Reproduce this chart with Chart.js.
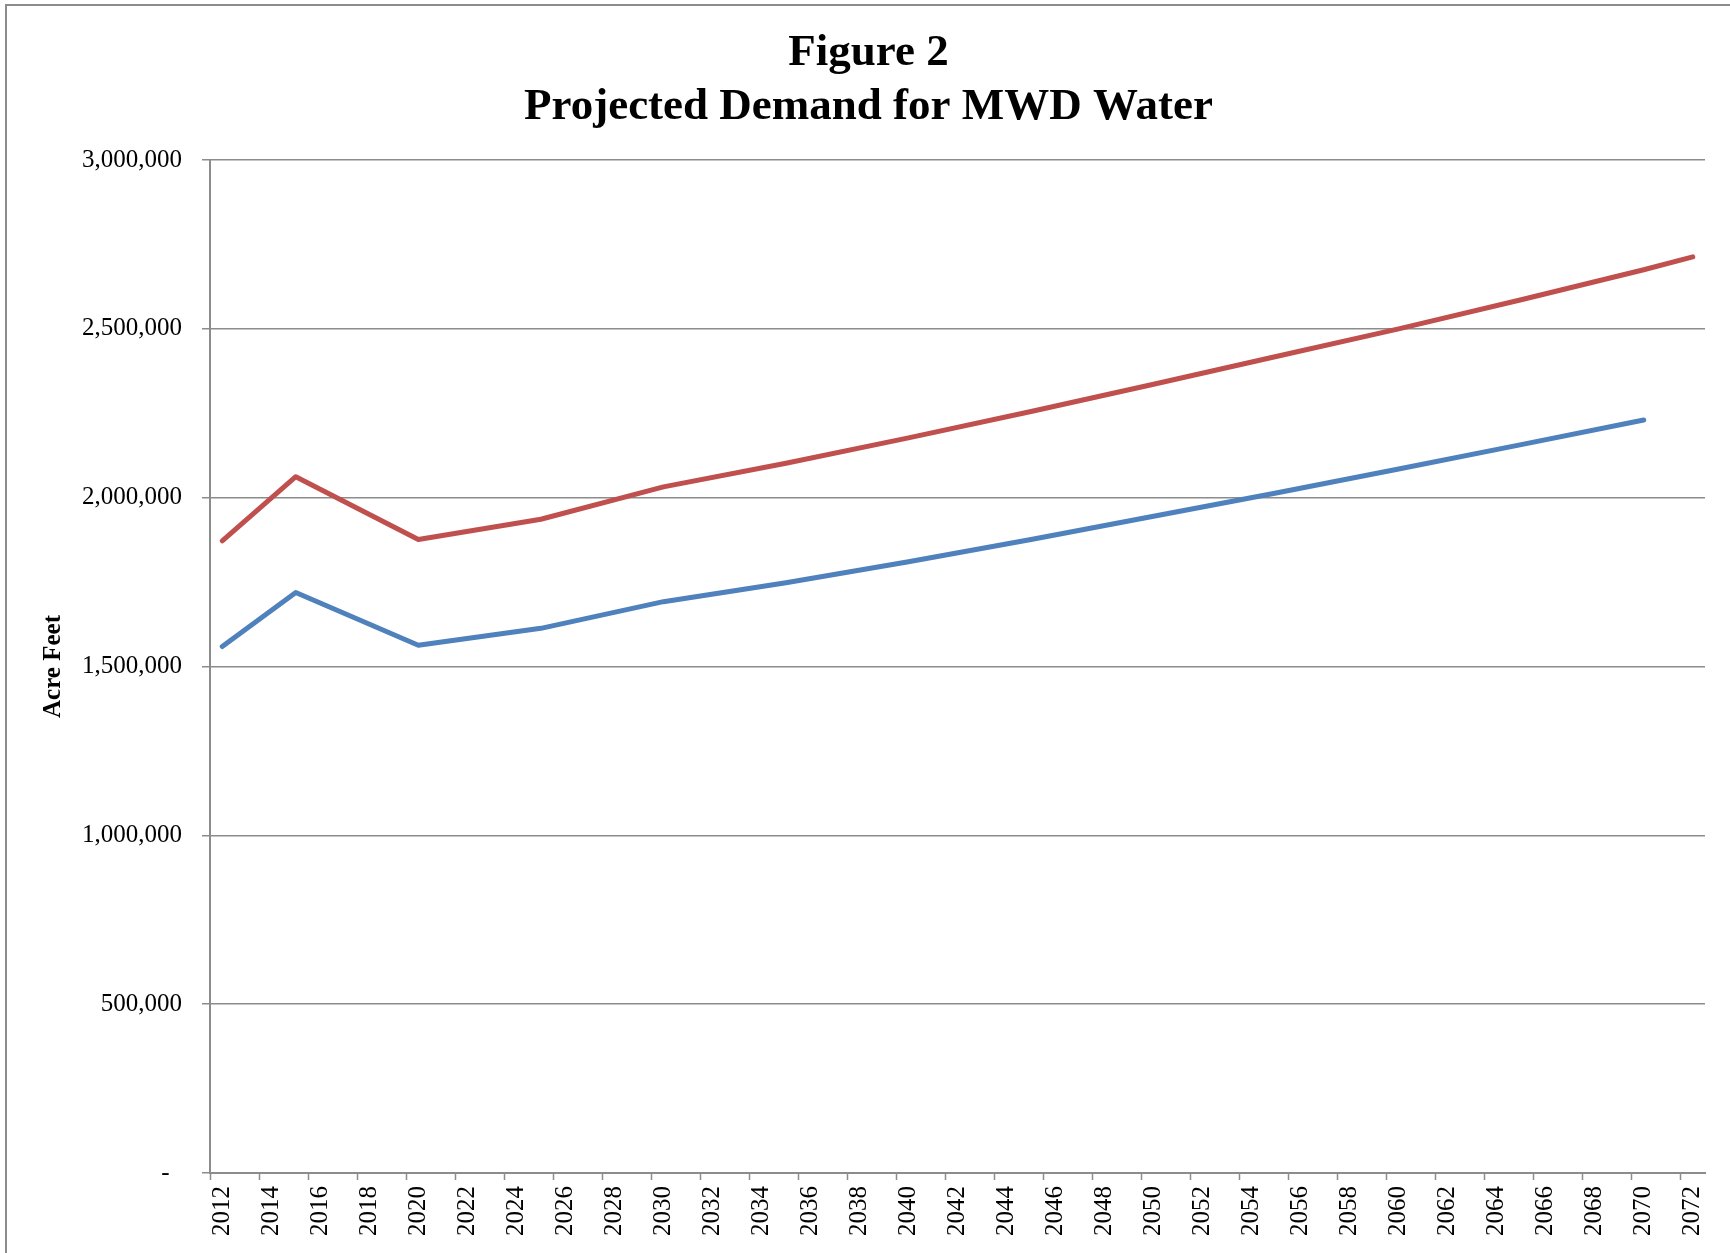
<!DOCTYPE html>
<html>
<head>
<meta charset="utf-8">
<script src="https://cdn.jsdelivr.net/npm/chart.js@4.4.1/dist/chart.umd.min.js"></script>
<style>
  html, body { margin: 0; padding: 0; background: #ffffff; }
  #wrap { position: relative; width: 1730px; height: 1253px; overflow: hidden; }
  #frame { position: absolute; left: 5px; top: 4px; width: 3000px; height: 3000px;
           border-top: 2px solid #8c8c8c; border-left: 2px solid #8c8c8c; box-sizing: border-box; }
  canvas { position: absolute; left: 0; top: 0; }
</style>
</head>
<body>
<div id="wrap">
  <div id="frame"></div>
  <canvas id="c" width="1730" height="1253"></canvas>
</div>
<script>
// ---- data ----
const titleLines = ['Figure 2', 'Projected Demand for MWD Water'];
const yAxisTitle = 'Acre Feet';
const years = ['2012','2013','2014','2015','2016','2017','2018','2019','2020','2021',
  '2022','2023','2024','2025','2026','2027','2028','2029','2030','2031',
  '2032','2033','2034','2035','2036','2037','2038','2039','2040','2041',
  '2042','2043','2044','2045','2046','2047','2048','2049','2050','2051',
  '2052','2053','2054','2055','2056','2057','2058','2059','2060','2061',
  '2062','2063','2064','2065','2066','2067','2068','2069','2070','2071','2072'];

const upperYears  = ['2012','2015','2020','2025','2030','2035','2040','2045','2050','2055','2060','2065','2070','2072'];
const upperValues = [1872000, 2062000, 1876000, 1936000, 2032000, 2102000, 2177000, 2255000, 2336000, 2418000, 2500000, 2586000, 2675000, 2713000];

const lowerYears  = ['2012','2015','2020','2025','2030','2035','2040','2045','2050','2055','2060','2065','2070'];
const lowerValues = [1559000, 1719000, 1563000, 1613000, 1692000, 1748000, 1810000, 1876000, 1945000, 2014000, 2085000, 2157000, 2230000];

const yMin = 0, yMax = 3000000, yStep = 500000;

const gridGray = '#8c8c8c';
const serif = "'Liberation Serif', 'Times New Roman', serif";

const toPoints = (xs, ys) => xs.map((x, i) => ({ x: x, y: ys[i] }));

new Chart(document.getElementById('c'), {
  type: 'line',
  data: {
    labels: years,
    datasets: [
      {
        label: 'Upper projection',
        data: toPoints(upperYears, upperValues),
        borderColor: '#C0504D',
        borderWidth: 5,
        pointRadius: 0,
        borderCapStyle: 'round',
        borderJoinStyle: 'round',
        tension: 0,
        fill: false
      },
      {
        label: 'Lower projection',
        data: toPoints(lowerYears, lowerValues),
        borderColor: '#4F81BD',
        borderWidth: 5,
        pointRadius: 0,
        borderCapStyle: 'round',
        borderJoinStyle: 'round',
        tension: 0,
        fill: false
      }
    ]
  },
  options: {
    responsive: false,
    animation: false,
    devicePixelRatio: 1,
    layout: { padding: { left: 32, top: 10, right: 25, bottom: 0 } },
    plugins: {
      legend: { display: false },
      tooltip: { enabled: false },
      title: {
        display: true,
        text: titleLines,
        color: '#000000',
        font: { family: serif, size: 45, weight: 'bold', lineHeight: 1.2 },
        padding: { top: 16, bottom: 26 }
      }
    },
    scales: {
      x: {
        type: 'category',
        offset: true,
        afterFit: (s) => { s.height = 80; },
        grid: {
          display: true,
          offset: true,
          drawOnChartArea: false,
          drawTicks: true,
          tickLength: 7,
          tickWidth: 1.5,
          tickColor: (ctx) => (ctx.type === 'tick' && ctx.index % 2 === 0) ? gridGray : 'rgba(0,0,0,0)'
        },
        border: { display: true, color: gridGray, width: 2 },
        ticks: {
          autoSkip: false,
          maxRotation: 90,
          minRotation: 90,
          padding: 6,
          color: '#000000',
          font: { family: serif, size: 25 },
          callback: function(value, index) { return index % 2 === 0 ? this.getLabelForValue(value) : ''; }
        }
      },
      y: {
        min: yMin,
        max: yMax,
        afterFit: (s) => { s.width = 178; },
        grid: {
          color: gridGray,
          lineWidth: 1.5,
          drawTicks: true,
          tickLength: 8,
          tickColor: gridGray
        },
        border: { display: true, color: gridGray, width: 2 },
        ticks: {
          stepSize: yStep,
          padding: 20,
          color: '#000000',
          font: { family: serif, size: 25 },
          callback: (v) => v === 0 ? '-  ' : v.toLocaleString('en-US')
        },
        title: {
          display: true,
          text: yAxisTitle,
          color: '#000000',
          font: { family: serif, size: 25, weight: 'bold', lineHeight: 1.2 },
          padding: { top: 7, bottom: 10 }
        }
      }
    }
  }
});
</script>
</body>
</html>
